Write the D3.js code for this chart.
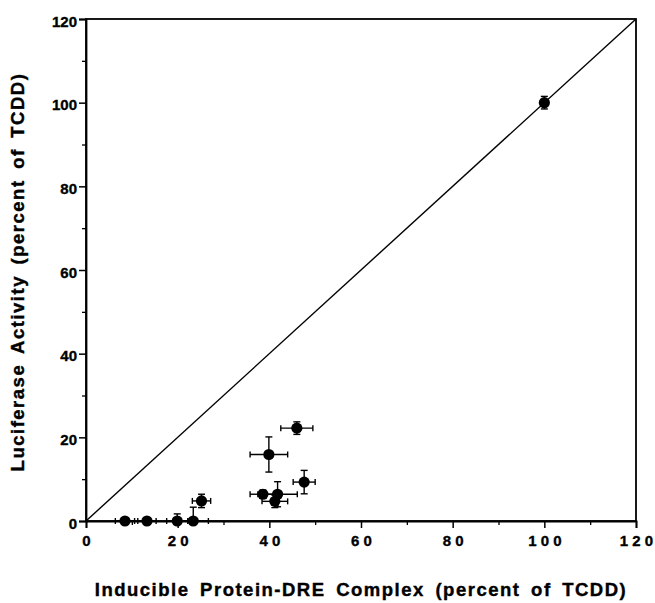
<!DOCTYPE html>
<html>
<head>
<meta charset="utf-8">
<script src="https://cdn.jsdelivr.net/npm/d3@7"></script>
<style>
  html, body { margin: 0; padding: 0; background: #fff; }
  svg { display: block; font-family: "Liberation Sans", Arial, sans-serif; }
</style>
</head>
<body>
<svg id="chart" width="655" height="603"></svg>
<script>
// Inducible protein-DRE complex (x) vs luciferase activity (y), both as percent of TCDD
const xValues = [8.5, 13.3, 19.9, 23.4, 25.2, 39.9, 46.0, 47.6, 38.6, 41.8, 41.2, 100];
const yValues = [0, 0, 0, 0, 4.8, 15.9, 22.2, 9.3, 6.4, 6.4, 4.7, 100];
const xErrors = [2.1, 2.0, 2.3, 3.3, 2.0, 4.1, 3.5, 2.4, 2.8, 4.3, 2.8, 0];
const yErrors = [0, 0, 1.7, 3.3, 1.6, 4.2, 1.5, 2.8, 1.0, 3.0, 1.5, 1.5];
const majorTicks = [0, 20, 40, 60, 80, 100, 120];
const minorTicks = [10, 30, 50, 70, 90, 110];
const xTitle = "Inducible Protein-DRE Complex (percent of TCDD)";
const yTitle = "Luciferase Activity (percent of TCDD)";

const points = xValues.map((x, i) => ({ x, y: yValues[i], ex: xErrors[i], ey: yErrors[i] }));

const svg = d3.select("#chart");
const plot = { left: 86, right: 636, top: 19, bottom: 521 };

const x = d3.scaleLinear().domain([0, 120]).range([plot.left, plot.right]);
const y = d3.scaleLinear().domain([0, 120]).range([plot.bottom, plot.top]);

const styleTickText = sel => sel
  .attr("font-size", 15).attr("font-weight", "bold")
  .attr("font-family", "Liberation Sans, Arial, sans-serif").attr("fill", "#000")
  .attr("stroke", "#000").attr("stroke-width", 0.35);

// frame
svg.append("rect")
  .attr("x", plot.left).attr("y", plot.top)
  .attr("width", plot.right - plot.left).attr("height", plot.bottom - plot.top)
  .attr("fill", "none").attr("stroke", "#000").attr("stroke-width", 1.8);

// x axis
const xAxis = svg.append("g").attr("transform", `translate(0,${plot.bottom})`)
  .call(d3.axisBottom(x).tickValues(majorTicks).tickSize(7).tickPadding(7)
    .tickFormat(d => String(d).split("").join(" ")));
xAxis.select(".domain").attr("stroke-width", 1.8);
xAxis.selectAll(".tick line").attr("stroke-width", 1.5);
xAxis.selectAll("text").call(styleTickText);
svg.append("g").attr("transform", `translate(0,${plot.bottom})`)
  .call(d3.axisBottom(x).tickValues(minorTicks).tickSize(4).tickFormat(""))
  .call(g => g.select(".domain").remove())
  .selectAll(".tick line").attr("stroke-width", 1.3);

// y axis
const yAxis = svg.append("g").attr("transform", `translate(${plot.left},0)`)
  .call(d3.axisLeft(y).tickValues(majorTicks).tickSize(7).tickPadding(2));
yAxis.select(".domain").attr("stroke-width", 1.8);
yAxis.selectAll(".tick line").attr("stroke-width", 1.5);
yAxis.selectAll("text").call(styleTickText).attr("dy", "0.48em");
svg.append("g").attr("transform", `translate(${plot.left},0)`)
  .call(d3.axisLeft(y).tickValues(minorTicks).tickSize(4).tickFormat(""))
  .call(g => g.select(".domain").remove())
  .selectAll(".tick line").attr("stroke-width", 1.3);

// line of identity
svg.append("line")
  .attr("x1", x(0)).attr("y1", y(0)).attr("x2", x(120)).attr("y2", y(120))
  .attr("stroke", "#000").attr("stroke-width", 1.4);

// error bars
const cap = 3;
const eb = svg.append("g").attr("stroke", "#000").attr("stroke-width", 1.4);
points.filter(d => d.ex > 0).forEach(d => {
  eb.append("line").attr("x1", x(d.x - d.ex)).attr("x2", x(d.x + d.ex)).attr("y1", y(d.y)).attr("y2", y(d.y));
  eb.append("line").attr("x1", x(d.x - d.ex)).attr("x2", x(d.x - d.ex)).attr("y1", y(d.y) - cap).attr("y2", y(d.y) + cap);
  eb.append("line").attr("x1", x(d.x + d.ex)).attr("x2", x(d.x + d.ex)).attr("y1", y(d.y) - cap).attr("y2", y(d.y) + cap);
});
points.filter(d => d.ey > 0).forEach(d => {
  const lo = Math.max(0, d.y - d.ey);
  eb.append("line").attr("x1", x(d.x)).attr("x2", x(d.x)).attr("y1", y(lo)).attr("y2", y(d.y + d.ey));
  eb.append("line").attr("x1", x(d.x) - 3.5).attr("x2", x(d.x) + 3.5).attr("y1", y(d.y + d.ey)).attr("y2", y(d.y + d.ey));
  if (d.y - d.ey > 0)
    eb.append("line").attr("x1", x(d.x) - 3.5).attr("x2", x(d.x) + 3.5).attr("y1", y(lo)).attr("y2", y(lo));
});

// markers
svg.append("g").selectAll("circle").data(points).join("circle")
  .attr("cx", d => x(d.x)).attr("cy", d => y(d.y)).attr("r", 5.6).attr("fill", "#000");

// axis titles
const titleStyle = sel => sel
  .attr("text-anchor", "middle").attr("font-size", 18.5).attr("font-weight", "bold")
  .attr("word-spacing", 4).attr("letter-spacing", 1.5)
  .attr("stroke", "#000").attr("stroke-width", 0.4);
svg.append("text")
  .attr("x", (plot.left + plot.right) / 2).attr("y", 596)
  .call(titleStyle)
  .text(xTitle);
svg.append("text")
  .attr("transform", `translate(24,272) rotate(-90)`)
  .call(titleStyle)
  .text(yTitle);
</script>
</body>
</html>
